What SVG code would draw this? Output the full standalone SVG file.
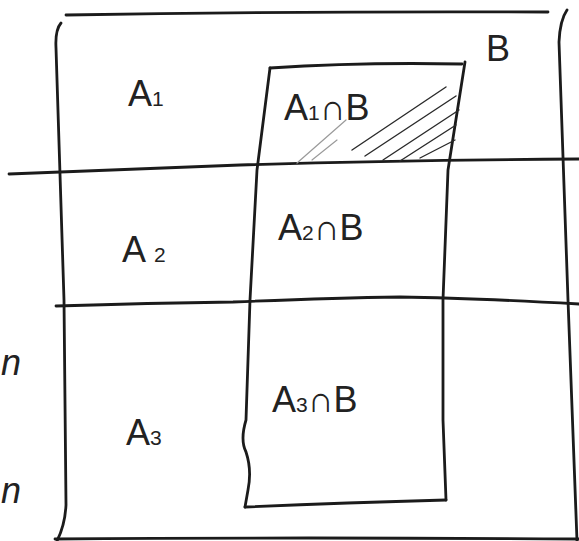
<svg xmlns="http://www.w3.org/2000/svg" width="579" height="541" viewBox="0 0 579 541">
<style>
.ln{fill:none;stroke:#1b1b1b;stroke-width:2.8;stroke-linecap:round;stroke-linejoin:round}
.th{fill:none;stroke:#2a2a2a;stroke-width:1.4;stroke-linecap:round}
.lt{fill:none;stroke:#9a9a9a;stroke-width:1.2;stroke-linecap:round}
.t{font-family:"Liberation Sans","DejaVu Sans",sans-serif;fill:#222;font-size:36px}
.s{font-size:21px}
</style>
<rect width="579" height="541" fill="#ffffff"/>
<g id="frame">
<path class="ln" d="M66 15 Q300 11 548 12"/>
<path class="ln" d="M61 23 Q55 30 56 48 L64 300 L66 505 Q65 525 57 541"/>
<path class="ln" d="M567 10 Q560 20 559 42 L568 300 L577 541"/>
<path class="ln" d="M55 539 Q300 537 579 539"/>
</g>
<g id="connectors">
<path class="ln" d="M9 174 Q120 170 240 165 Q400 160 579 159"/>
<path class="ln" d="M56 306 Q150 303 233 302 Q330 298 400 297 Q470 298 579 304"/>
</g>
<g id="B">
<path class="ln" d="M270 68 Q360 62 462 64"/>
<path class="ln" d="M270 68 L257 170 L250 300 L246 420 Q240 440 246 452 Q252 470 248 490 L245 507"/>
<path class="ln" d="M465 62 L448 170 L443 300 L443 420 L446 500"/>
<path class="ln" d="M245 507 Q340 503 446 500"/>
<text class="t" x="486" y="61" font-size="42">B</text>
</g>
<g id="hatch">
<path class="lt" d="M297 163 L346 120"/>
<path class="lt" d="M312 160 L337 140"/>
<path class="th" d="M352 150 L446 87"/>
<path class="th" d="M365 156 L456 96"/>
<path class="th" d="M383 160 L459 110"/>
<path class="th" d="M400 161 L456 125"/>
<path class="th" d="M420 158 L455 140"/>
</g>
<g id="A1">
<text class="t" x="128" y="106">A<tspan class="s">1</tspan></text>
</g>
<g id="A1B">
<text class="t" x="284" y="120" font-size="38">A<tspan class="s">1</tspan>∩B</text>
</g>
<g id="A2">
<text class="t" x="122" y="262" font-size="40">A<tspan class="s" dx="8">2</tspan></text>
</g>
<g id="A2B">
<text class="t" x="278" y="240" font-size="38">A<tspan class="s">2</tspan>∩B</text>
</g>
<g id="A3">
<text class="t" x="126" y="445" font-size="46">A<tspan class="s" font-size="24">3</tspan></text>
</g>
<g id="A3B">
<text class="t" x="272" y="412" font-size="40">A<tspan class="s">3</tspan>∩B</text>
</g>
<g id="margin">
<text class="t" x="1" y="375" font-size="20" font-style="italic">n</text>
<text class="t" x="1" y="503" font-size="20" font-style="italic">n</text>
</g>
</svg>
